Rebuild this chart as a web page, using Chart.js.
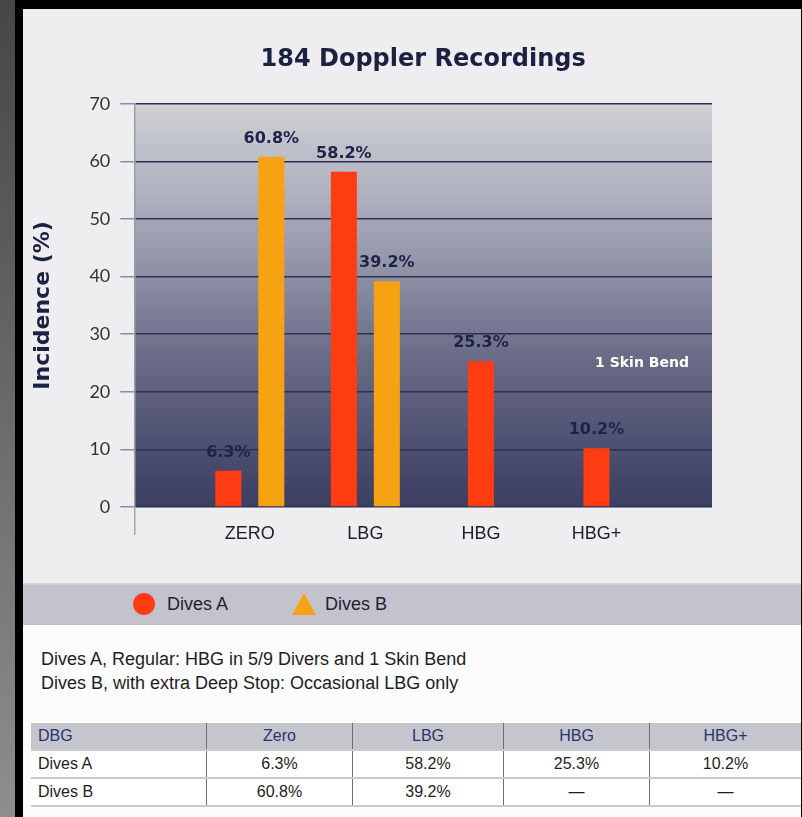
<!DOCTYPE html>
<html>
<head>
<meta charset="utf-8">
<script src="https://cdn.jsdelivr.net/npm/chart.js@4.4.1/dist/chart.umd.min.js"></script>
<style>
  html, body { margin: 0; padding: 0; }
  body {
    width: 802px; height: 817px; overflow: hidden; position: relative;
    background: #000; font-family: "Liberation Sans", Arial, sans-serif;
  }
  #stripe { position: absolute; left: 0; top: 0; width: 15px; height: 817px; background: linear-gradient(#464646, #8e8e8e); }
  #panel { position: absolute; left: 23px; top: 9px; width: 778px; height: 808px; background: #eeeef1; }
  #lower { position: absolute; left: 23px; top: 625px; width: 778px; height: 192px; background: #fcfcfd; }
  #band {
    position: absolute; left: 23px; top: 583px; width: 778px; height: 42px;
    background: #c4c3cd; border-top: 2px solid #d4d3db; box-sizing: border-box;
  }
  canvas { position: absolute; left: 0; top: 0; }

  .legend-text { position: absolute; top: 593px; font-size: 18px; color: #1d1f33; line-height: 22px; }
  #dotA { position: absolute; left: 133px; top: 593px; width: 22px; height: 22px; border-radius: 50%; background: #ff3c12; }
  #triB {
    position: absolute; left: 292px; top: 593px; width: 0; height: 0;
    border-left: 12px solid transparent; border-right: 12px solid transparent; border-bottom: 22px solid #f7a213;
  }

  #notes { position: absolute; left: 41px; top: 647px; font-size: 18px; line-height: 24px; color: #1e1e22; }

  #table { position: absolute; left: 31px; top: 723px; border-collapse: collapse; font-size: 16px; }
  #table td { padding: 0 7px; height: 26px; border-left: 1px solid #6e6e76; border-bottom: 2px solid #c9c9cf; text-align: center; color: #1e1e22; }
  #table td:first-child { text-align: left; border-left: none; }
  #table tr.head td { background: #c5c5cd; color: #27346e; }
  #table tr { background: #fff; }
</style>
</head>
<body>
<div id="stripe"></div>
<div id="panel"></div>
<div id="lower"></div>
<div id="band"></div>
<canvas id="chart" width="802" height="583"></canvas>

<div id="dotA"></div>
<div class="legend-text" id="nameA" style="left:167px"></div>
<div id="triB"></div>
<div class="legend-text" id="nameB" style="left:325px"></div>

<div id="notes"></div>
<table id="table"></table>

<script>
const categories = ["ZERO", "LBG", "HBG", "HBG+"];
const divesA = [6.3, 58.2, 25.3, 10.2];
const divesB = [60.8, 39.2, null, null];
const seriesNames = ["Dives A", "Dives B"];
const yTicks = [0, 10, 20, 30, 40, 50, 60, 70];
const tableHeaders = ["DBG", "Zero", "LBG", "HBG", "HBG+"];
const notes = [
    "Dives A, Regular: HBG in 5/9 Divers and 1 Skin Bend",
    "Dives B, with extra Deep Stop: Occasional LBG only"
];
const skinBendText = "1 Skin Bend";
const skinBendLevel = 25;

const colorA = "#ff3c12";
const colorB = "#f7a213";

// empty slots at both ends so the groups sit like in the original
const labels = ["", ...categories, ""];
const pad = arr => [null, ...arr, null];

/* -----------------------
   PLOT BACKGROUND
------------------------ */
const plotBackground = {
    id: "plotBackground",
    beforeDraw(chart) {
        const { ctx, chartArea: a } = chart;
        const g = ctx.createLinearGradient(0, a.top, 0, a.bottom);
        g.addColorStop(0, "#cfd1d6");
        g.addColorStop(0.3, "#a3a5b6");
        g.addColorStop(0.65, "#666884");
        g.addColorStop(1, "#3c3e62");
        ctx.save();
        ctx.fillStyle = g;
        ctx.fillRect(a.left, a.top, a.width, a.height);
        ctx.restore();
    }
};

/* -----------------------
   VALUE LABELS + NOTE
------------------------ */
const valueLabels = {
    id: "valueLabels",
    afterDatasetsDraw(chart) {
        const ctx = chart.ctx;
        ctx.save();
        ctx.font = 'bold 16px "DejaVu Sans", sans-serif';
        ctx.fillStyle = "#1f2348";
        ctx.textAlign = "center";
        chart.data.datasets.forEach((ds, i) => {
            chart.getDatasetMeta(i).data.forEach((bar, j) => {
                const v = ds.data[j];
                if (v == null) return;
                ctx.fillText(v.toFixed(1) + "%", bar.x, bar.y - 14);
            });
        });

        ctx.font = 'bold 14px "DejaVu Sans", sans-serif';
        ctx.fillStyle = "#ffffff";
        ctx.textBaseline = "middle";
        ctx.fillText(skinBendText, chart.chartArea.right - 70, chart.scales.y.getPixelForValue(skinBendLevel));
        ctx.restore();
    }
};

new Chart(document.getElementById("chart"), {
    type: "bar",
    data: {
        labels: labels,
        datasets: [
            { label: seriesNames[0], data: pad(divesA), backgroundColor: colorA },
            { label: seriesNames[1], data: pad(divesB), backgroundColor: colorB }
        ]
    },
    options: {
        responsive: false,
        animation: false,
        skipNull: true,
        categoryPercentage: 0.744,
        barPercentage: 0.605,
        maxBarThickness: 26,
        layout: { padding: { left: 30, right: 90, top: 0, bottom: 40 } },
        plugins: {
            legend: { display: false },
            tooltip: { enabled: false },
            title: {
                display: true,
                text: "184 Doppler Recordings",
                fullSize: false,
                color: "#1d2141",
                font: { family: "DejaVu Sans", weight: "bold", size: 24 },
                padding: { top: 45, bottom: 30 }
            }
        },
        scales: {
            x: {
                offset: false,
                afterFit: s => { s.height = 36; },
                grid: {
                    offset: false,
                    drawOnChartArea: false,
                    tickLength: 28,
                    lineWidth: 1.5,
                    tickColor: c => c.index === 0 ? "#a3a4b1" : "rgba(0,0,0,0)"
                },
                border: { display: false },
                ticks: {
                    autoSkip: false,
                    maxRotation: 0,
                    padding: -12,
                    color: "#1e1e28",
                    font: { family: "Liberation Sans", size: 18 }
                }
            },
            y: {
                min: 0,
                max: 70,
                afterBuildTicks: s => { s.ticks = yTicks.map(v => ({ value: v })); },
                ticks: {
                    padding: 10,
                    color: "#333333",
                    font: { family: "Lato", size: 18 }
                },
                grid: { color: "#2c2f55", lineWidth: 1.5, tickLength: 14, tickColor: "#8d8e9d" },
                border: { color: "#9a9bab", width: 1.5 },
                title: {
                    display: true,
                    text: "Incidence (%)",
                    color: "#1d2141",
                    font: { family: "DejaVu Sans", weight: "bold", size: 22 },
                    padding: { top: 0, bottom: 23 }
                }
            }
        }
    },
    plugins: [plotBackground, valueLabels]
});

/* -----------------------
   LEGEND, NOTES, TABLE
------------------------ */
document.getElementById("nameA").textContent = seriesNames[0];
document.getElementById("nameB").textContent = seriesNames[1];
document.getElementById("notes").innerHTML = notes.map(n => "<div>" + n + "</div>").join("");

const widths = [176, 146, 151, 146, 152];
const fmt = v => v == null ? "\u2014" : v.toFixed(1) + "%";
const rows = [
    { cls: "head", cells: tableHeaders },
    { cls: "", cells: [seriesNames[0], ...divesA.map(fmt)] },
    { cls: "", cells: [seriesNames[1], ...divesB.map(fmt)] }
];
document.getElementById("table").innerHTML = rows.map(r =>
    '<tr class="' + r.cls + '">' +
    r.cells.map((c, i) => '<td style="width:' + (widths[i] - 15) + 'px">' + c + "</td>").join("") +
    "</tr>"
).join("");
</script>
</body>
</html>
